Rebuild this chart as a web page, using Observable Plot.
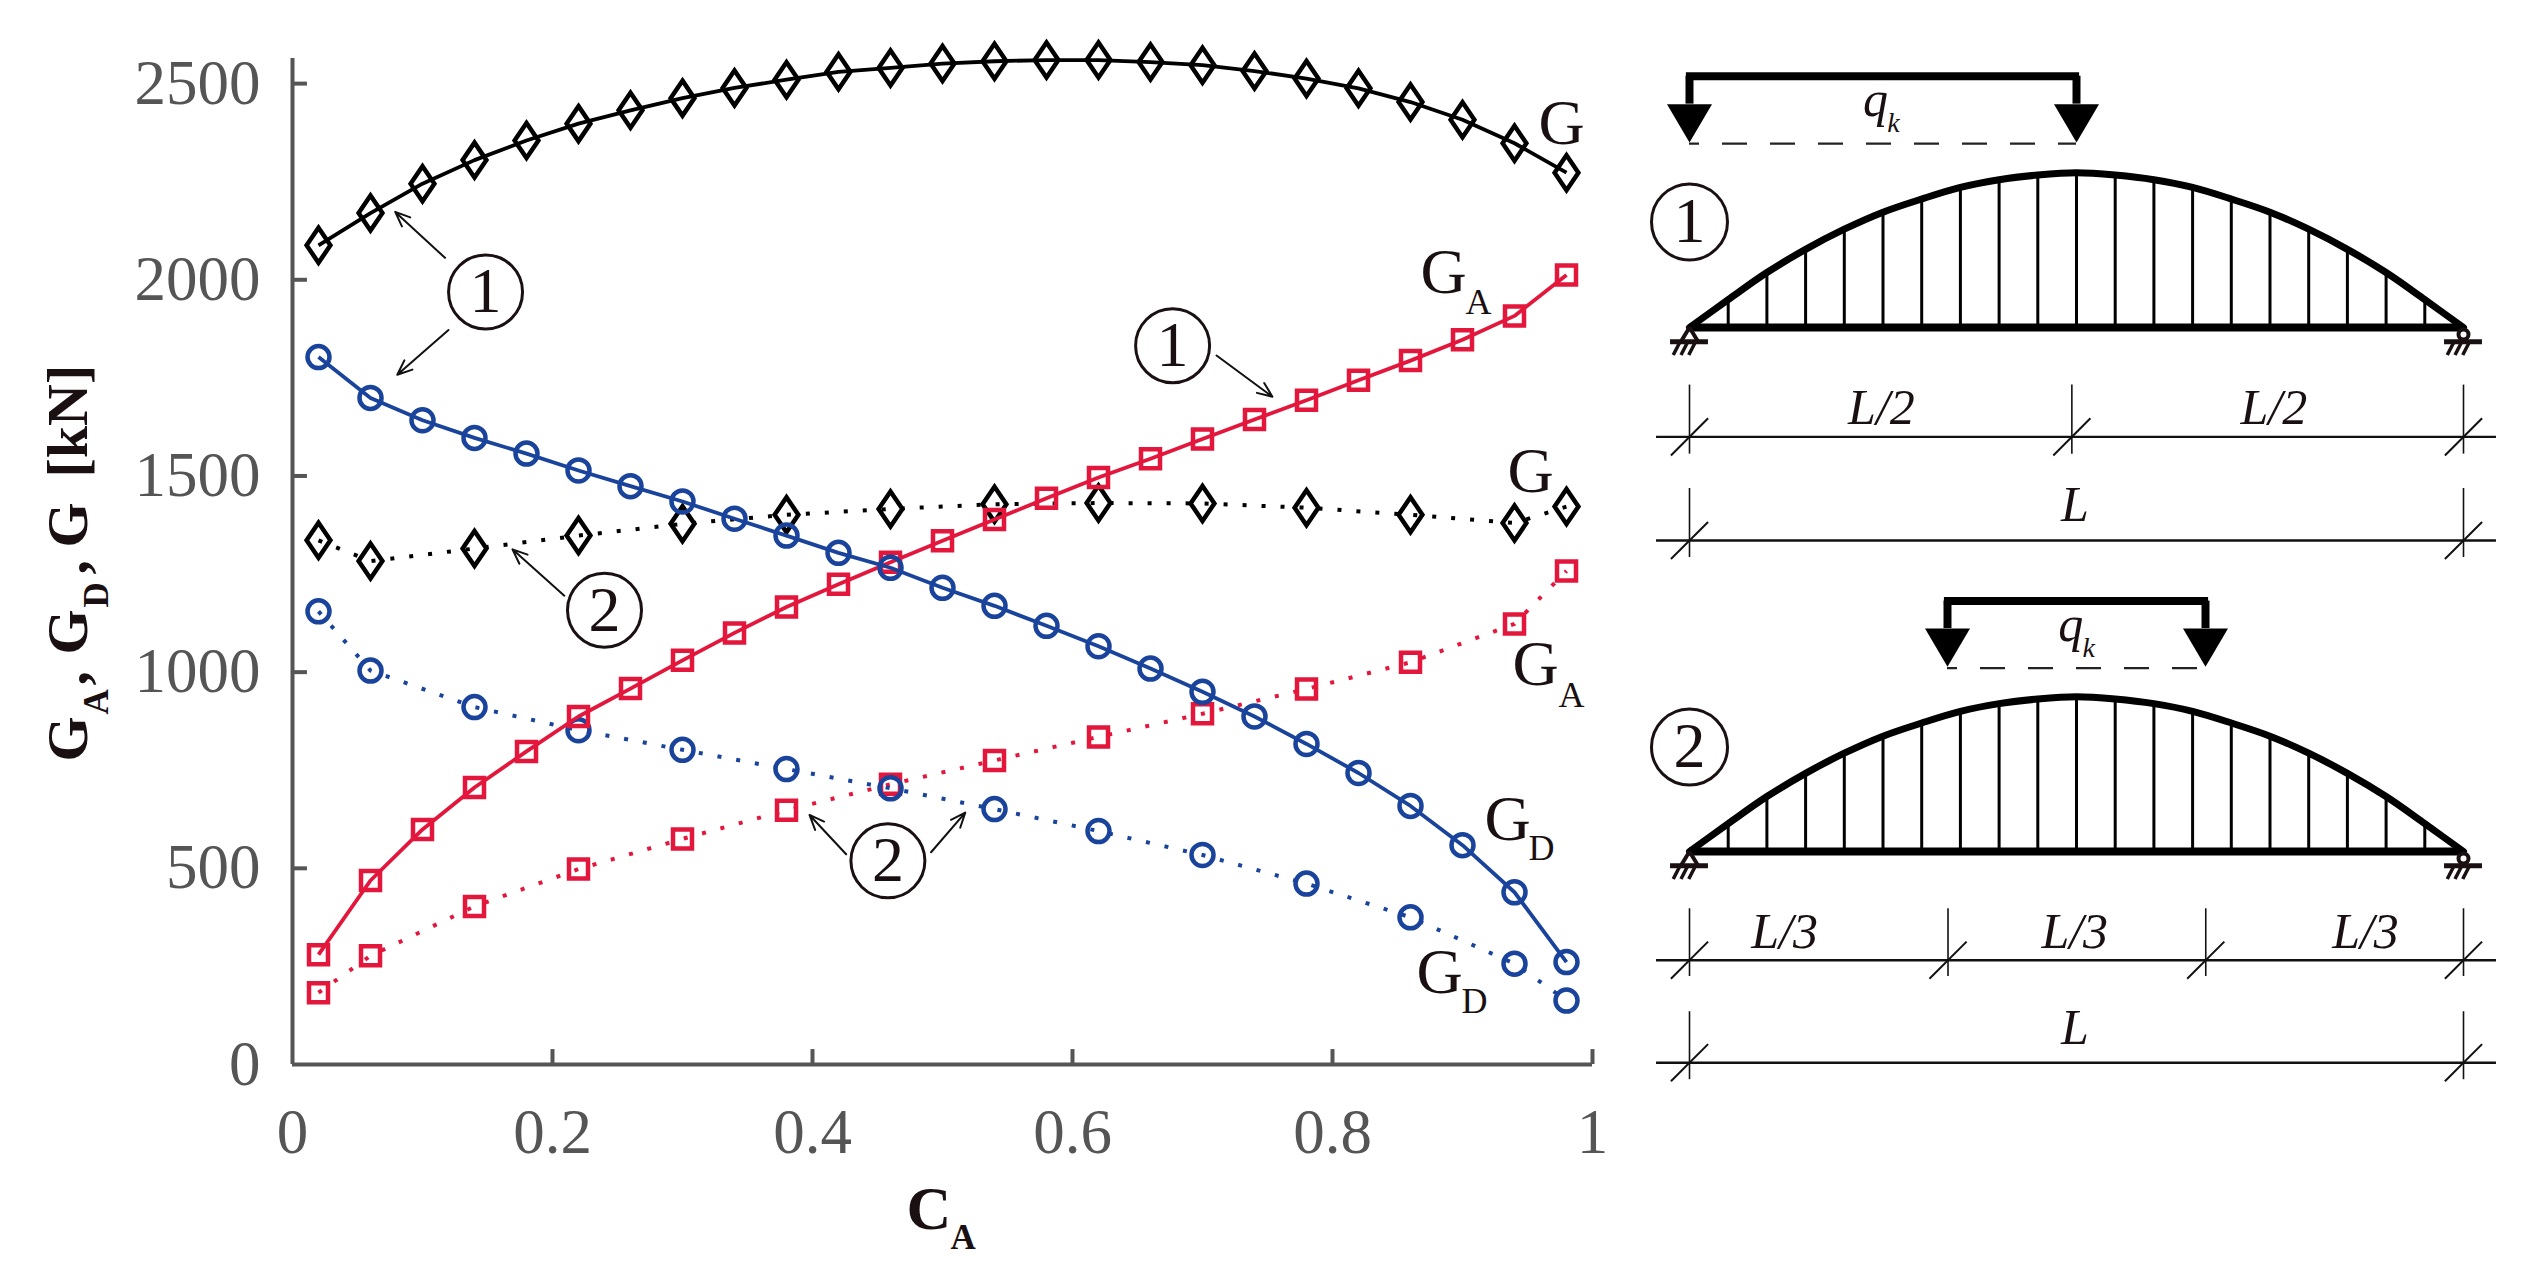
<!DOCTYPE html>
<html>
<head>
<meta charset="utf-8">
<script src="https://cdn.jsdelivr.net/npm/d3@7"></script>
<script src="https://cdn.jsdelivr.net/npm/@observablehq/plot@0.6"></script>
<style>
html,body{margin:0;padding:0;background:#fff;overflow:hidden}
#page{display:flex;width:2537px;height:1284px}
#right{width:900px;height:1284px}
svg{display:block}
</style>
</head>
<body>
<div id="page"><div id="left"></div><div id="right"></div></div>
<script>
// ---- chart data (C_A, kN) ----
const caSolid = [0.02,0.06,0.10,0.14,0.18,0.22,0.26,0.30,0.34,0.38,0.42,0.46,0.50,0.54,0.58,0.62,0.66,0.70,0.74,0.78,0.82,0.86,0.90,0.94,0.98];
const gSolid  = [2088,2170,2245,2305,2355,2398,2432,2463,2489,2510,2530,2540,2551,2557,2560,2560,2555,2547,2532,2513,2488,2453,2408,2348,2273];
const gaSolid = [280,469,599,706,798,887,958,1030,1100,1166,1224,1280,1335,1389,1443,1496,1544,1594,1644,1693,1744,1794,1847,1908,2012];
const gdSolid = [1803,1699,1642,1597,1557,1514,1474,1435,1391,1348,1304,1266,1215,1169,1118,1066,1009,950,887,817,743,659,559,439,261];
const caDotted = [0.02,0.06,0.14,0.22,0.30,0.38,0.46,0.54,0.62,0.70,0.78,0.86,0.94,0.98];
const gDotted  = [1336,1283,1315,1348,1378,1401,1416,1428,1431,1430,1419,1401,1380,1422];
const gaDotted = [183,277,403,498,575,648,714,775,835,894,957,1025,1123,1258];
const gdDotted = [1155,1004,911,852,802,753,704,651,595,534,461,375,257,163];
const xTicks = [0,0.2,0.4,0.6,0.8,1];
const yTicks = [0,500,1000,1500,2000,2500];

// ---- annotations, in data units ----
const curveLabels = [
  {x:0.9585,y:2345,t:"G"},{x:0.8677,y:1967,t:"G"},{x:0.9346,y:1460,t:"G"},
  {x:0.9385,y:966,t:"G"},{x:0.9169,y:571,t:"G"},{x:0.8646,y:183,t:"G"}
];
const curveSubs = [
  {x:0.9023,y:1914,t:"A"},{x:0.9738,y:912,t:"A"},{x:0.9508,y:520,t:"D"},{x:0.8992,y:130,t:"D"}
];
const callouts = [
  {x:0.1485,y:1969,t:"1"},{x:0.240,y:1158,t:"2"},{x:0.677,y:1832,t:"1"},{x:0.458,y:519,t:"2"}
];
const leaders = [
  {x1:0.1173,y1:2056,x2:0.0790,y2:2173},
  {x1:0.1200,y1:1872,x2:0.0806,y2:1758},
  {x1:0.2091,y1:1195,x2:0.1692,y2:1313},
  {x1:0.7108,y1:1807,x2:0.7538,y2:1702},
  {x1:0.4259,y1:536,x2:0.3977,y2:636},
  {x1:0.4912,y1:541,x2:0.5175,y2:642}
];
const yTitleBig = [
  {x:-0.1577,y:772,t:"G"},{x:-0.1577,y:1045,t:"G"},{x:-0.1577,y:1318,t:"G"},{x:-0.1577,y:1496,t:"[kN]"},
  {x:-0.1577,y:966,t:","},{x:-0.1577,y:1249,t:","}
];
const yTitleSub = [{x:-0.1423,y:892,t:"A"},{x:-0.1423,y:1165,t:"D"}];

const serif = "Liberation Serif";
const ink = "#1a1012", grey = "#555555";
const black = "#000000", blue = "#1a449c", red = "#e3163c";

const diamond = {draw(c,size){const r=Math.sqrt(size/Math.PI);c.moveTo(0,-r);c.lineTo(r*0.68,0);c.lineTo(0,r);c.lineTo(-r*0.68,0);c.closePath();}};
const square  = {draw(c,size){const r=Math.sqrt(size/Math.PI);c.moveTo(-r,-r);c.lineTo(r,-r);c.lineTo(r,r);c.lineTo(-r,r);c.closePath();}};

const rows = (xs,ys)=>xs.map((x,i)=>({x,y:ys[i]}));
const series = (xs,ys,color,symbol,r,dash)=>[
  Plot.line(rows(xs,ys),{x:"x",y:"y",stroke:color,strokeWidth:dash?4:3.8,strokeDasharray:dash?"4,15":null,strokeLinecap:"butt"}),
  Plot.dot(rows(xs,ys),{x:"x",y:"y",stroke:color,strokeWidth:4.5,fill:"none",symbol,r})
];

const chart = Plot.plot({
  width:1637,height:1284,
  marginLeft:292,marginRight:45,marginTop:58,marginBottom:220,
  x:{domain:[0,1],label:null,axis:null},
  y:{domain:[0,2564],label:null,axis:null},
  style:{background:"#fff",fontFamily:serif},
  marks:[
    Plot.ruleX([0],{y1:0,y2:2564,stroke:grey,strokeWidth:4}),
    Plot.ruleY([0],{x1:0,x2:1,stroke:grey,strokeWidth:4}),
    Plot.ruleY(yTicks.slice(1),{x1:0,x2:0.0115,stroke:grey,strokeWidth:4}),
    Plot.ruleX(xTicks.slice(1),{y1:0,y2:38,stroke:grey,strokeWidth:4}),
    Plot.axisY({ticks:yTicks,tickSize:0,tickPadding:32,fontSize:63,color:grey,label:null,tickFormat:d=>String(d),fontFamily:serif}),
    Plot.axisX({ticks:xTicks,tickSize:0,tickPadding:44,fontSize:63,color:grey,label:null,tickFormat:d=>String(d),fontFamily:serif}),
    ...series(caSolid,gSolid,black,diamond,17.5,false),
    ...series(caDotted,gDotted,black,diamond,17.5,true),
    ...series(caDotted,gaDotted,red,square,9.5,true),
    ...series(caDotted,gdDotted,blue,"circle",11,true),
    ...series(caSolid,gaSolid,red,square,9.5,false),
    ...series(caSolid,gdSolid,blue,"circle",11,false),
    Plot.arrow(leaders,{x1:"x1",y1:"y1",x2:"x2",y2:"y2",stroke:"#111",strokeWidth:2,headLength:12,headAngle:45}),
    Plot.dot(callouts,{x:"x",y:"y",r:37,stroke:ink,strokeWidth:3,fill:"none"}),
    Plot.text(callouts,{x:"x",y:"y",text:"t",fontSize:64,fill:ink,fontFamily:serif}),
    Plot.text(curveLabels,{x:"x",y:"y",text:"t",fontSize:64,fill:ink,fontFamily:serif,textAnchor:"start",lineAnchor:"bottom"}),
    Plot.text(curveSubs,{x:"x",y:"y",text:"t",fontSize:36,fill:ink,fontFamily:serif,textAnchor:"start",lineAnchor:"bottom"}),
    Plot.text(yTitleBig,{x:"x",y:"y",text:"t",fontSize:58,fontWeight:"bold",fill:ink,fontFamily:serif,rotate:-90,textAnchor:"start",lineAnchor:"bottom"}),
    Plot.text(yTitleSub,{x:"x",y:"y",text:"t",fontSize:35,fontWeight:"bold",fill:ink,fontFamily:serif,rotate:-90,textAnchor:"start",lineAnchor:"bottom"}),
    Plot.text([{x:0.4723,y:-420,t:"C"}],{x:"x",y:"y",text:"t",fontSize:62,fontWeight:"bold",fill:ink,fontFamily:serif,textAnchor:"start",lineAnchor:"bottom"}),
    Plot.text([{x:0.5062,y:-471,t:"A"}],{x:"x",y:"y",text:"t",fontSize:35,fontWeight:"bold",fill:ink,fontFamily:serif,textAnchor:"start",lineAnchor:"bottom"})
  ]
});
document.getElementById("left").appendChild(chart);

// ---- arch diagrams: x and y in fractions of the span L ----
const hangerX = [0,0.05,0.10,0.15,0.20,0.25,0.30,0.35,0.40,0.45,0.50,0.55,0.60,0.65,0.70,0.75,0.80,0.85,0.90,0.95,1];
const archRise = [0,0.036,0.071,0.101,0.127,0.149,0.166,0.181,0.191,0.197,0.200,0.197,0.191,0.181,0.166,0.149,0.127,0.101,0.071,0.036,0];
const loadSpans = {one:[0,0.5],two:[1/3,2/3]};
const splits = {one:[0,0.494,1],two:[0,0.334,0.667,1]};
const spanLabels = {
  one:[{x:0.248,t:"L/2"},{x:0.755,t:"L/2"}],
  two:[{x:0.1228,t:"L/3"},{x:0.4977,t:"L/3"},{x:0.8734,t:"L/3"}]
};

const triDown = {draw(c,size){const r=Math.sqrt(size/Math.PI);c.moveTo(-r,0);c.lineTo(r,0);c.lineTo(0,r*1.7);c.closePath();}};

function diagram({tag,height,yTop,yBottom,circle,load,dim1,dim2,labelY,wholeY,q}){
  const [a,b] = load;
  const ds = splits[tag];
  const arch = rows(hangerX,archRise);
  return Plot.plot({
    width:900,height,
    marginLeft:52,marginRight:74,marginTop:0,marginBottom:0,
    x:{domain:[0,1],axis:null,label:null},
    y:{domain:[yBottom,yTop],axis:null,label:null},
    style:{background:"transparent",fontFamily:serif},
    marks:[
      // hangers, arch, tie
      Plot.ruleX(arch.slice(1,-1),{x:"x",y1:0,y2:"y",stroke:"#000",strokeWidth:3}),
      Plot.line(arch,{x:"x",y:"y",curve:"catmull-rom",stroke:"#000",strokeWidth:7}),
      Plot.ruleY([0],{x1:0,x2:1,stroke:"#000",strokeWidth:8}),
      // supports
      Plot.link([{x1:0,x2:-0.011},{x1:0,x2:0.011}],{x1:"x1",x2:"x2",y1:0,y2:-0.018,stroke:ink,strokeWidth:4}),
      Plot.ruleY([{a:-0.0245,b:0.0245},{a:0.9755,b:1.0245}],{x1:"a",x2:"b",y:-0.0185,stroke:ink,strokeWidth:5}),
      Plot.link([-0.012,-0.002,0.008,0.988,0.998,1.008],{x1:d=>d,x2:d=>d-0.009,y1:-0.018,y2:-0.0355,stroke:ink,strokeWidth:3.5}),
      Plot.dot([{x:1,y:-0.009}],{x:"x",y:"y",r:5,stroke:ink,strokeWidth:4,fill:"#fff"}),
      // load
      Plot.ruleY([0],{x1:a-0.004,x2:b+0.004,y:q.bar,stroke:"#000",strokeWidth:8}),
      Plot.ruleX([a,b],{y1:q.bar,y2:q.base,stroke:"#000",strokeWidth:8}),
      Plot.dot([a,b],{x:d=>d,y:q.base,symbol:triDown,r:22.5,fill:"#000",stroke:"none"}),
      Plot.ruleY([0],{x1:a,x2:b,y:q.dash,stroke:"#222",strokeWidth:2.2,strokeDasharray:"25,23",strokeDashoffset:15}),
      Plot.text([0],{x:q.qx,y:q.qy,text:()=>"q",fontSize:50,fontStyle:"italic",fill:ink,fontFamily:serif,textAnchor:"start",lineAnchor:"bottom"}),
      Plot.text([0],{x:q.kx,y:q.ky,text:()=>"k",fontSize:28,fontStyle:"italic",fill:ink,fontFamily:serif,textAnchor:"start",lineAnchor:"bottom"}),
      // circled number
      Plot.dot([0],{x:0,y:circle,r:38,stroke:ink,strokeWidth:3,fill:"#fff"}),
      Plot.text([tag==="one"?"1":"2"],{x:0,y:circle,text:d=>d,fontSize:64,fill:ink,fontFamily:serif}),
      // dimension lines
      Plot.ruleY([dim1.y,dim2.y],{x1:-0.0426,x2:1.0426,stroke:"#111",strokeWidth:2.4}),
      Plot.ruleX(ds,{y1:dim1.top,y2:dim1.bottom,stroke:"#111",strokeWidth:1.6}),
      Plot.ruleX([0,1],{y1:dim2.top,y2:dim2.bottom,stroke:"#111",strokeWidth:1.6}),
      Plot.link(ds,{x1:d=>d-0.024,x2:d=>d+0.024,y1:dim1.y-0.024,y2:dim1.y+0.024,stroke:"#111",strokeWidth:2}),
      Plot.link([0,1],{x1:d=>d-0.024,x2:d=>d+0.024,y1:dim2.y-0.024,y2:dim2.y+0.024,stroke:"#111",strokeWidth:2}),
      Plot.text(spanLabels[tag],{x:"x",y:labelY,text:"t",fontSize:50,fontStyle:"italic",fill:ink,fontFamily:serif,lineAnchor:"bottom"}),
      Plot.text([0],{x:0.498,y:wholeY,text:()=>"L",fontSize:50,fontStyle:"italic",fill:ink,fontFamily:serif,lineAnchor:"bottom"})
    ]
  });
}

const right = document.getElementById("right");
right.appendChild(diagram({
  tag:"one",height:565,yTop:0.4225,yBottom:-0.3075,circle:0.1364,load:loadSpans.one,
  dim1:{y:-0.1413,top:-0.0744,bottom:-0.1636},dim2:{y:-0.2752,top:-0.2080,bottom:-0.2972},
  labelY:-0.1253,wholeY:-0.2494,
  q:{bar:0.3247,base:0.2886,dash:0.2377,qx:0.2243,qy:0.2731,kx:0.2554,ky:0.2532}
}));
right.appendChild(diagram({
  tag:"two",height:719,yTop:0.3695,yBottom:-0.5594,circle:0.135,load:loadSpans.two,
  dim1:{y:-0.1404,top:-0.074,bottom:-0.1615},dim2:{y:-0.2729,top:-0.207,bottom:-0.2948},
  labelY:-0.1243,wholeY:-0.2485,
  q:{bar:0.3235,base:0.288,dash:0.237,qx:0.4765,qy:0.2722,kx:0.5076,ky:0.2516}
}));
</script>
</body>
</html>
